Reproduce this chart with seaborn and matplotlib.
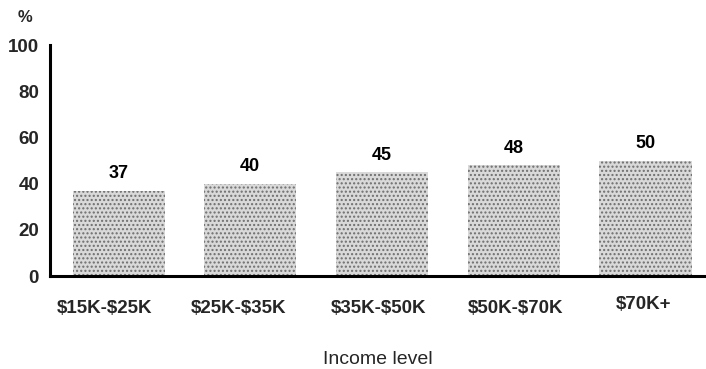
import matplotlib
matplotlib.use('Agg')
import matplotlib.pyplot as plt
import matplotlib.transforms as mtransforms
import seaborn as sns

# 数据
categories = ['$15K-$25K', '$25K-$35K', '$35K-$50K', '$50K-$70K', '$70K+']
values = [37, 40, 45, 48, 50]
y_ticks = [0, 20, 40, 60, 80, 100]

sns.set_theme(style='white')
plt.rcParams['font.family'] = ['Liberation Sans', 'DejaVu Sans']
plt.rcParams['text.parse_math'] = False

fig = plt.figure(figsize=(7.06, 3.69), dpi=100)
ax = fig.add_axes([0.071, 0.252, 0.929, 0.626])

sns.barplot(x=categories, y=values, color='#d9d9d9', width=0.7, ax=ax,
            edgecolor='#6e6e6e', linewidth=0)
for p in ax.patches:
    p.set_hatch('....')

ax.bar_label(ax.containers[0], labels=[str(v) for v in values], padding=6,
             fontsize=13, fontweight='bold', color='black')

ax.set_ylim(0, 100)
ax.set_xlim(-0.52, 4.46)
ax.set_yticks(y_ticks)
ax.set_yticklabels([str(t) for t in y_ticks], fontsize=13.5, fontweight='bold')
ax.tick_params(axis='y', direction='out', length=5, width=2, color='black', pad=3)
ax.tick_params(axis='x', length=0, pad=17)
ax.set_xticks(range(len(categories)))
ax.set_xticklabels(categories, fontsize=13.5, fontweight='bold')

# 标签略微偏移
shifts = [(-14, 0), (-12, 0), (-3, 0), (2, 0), (-2, 4)]
for lab, (dx, dy) in zip(ax.get_xticklabels(), shifts):
    lab.set_transform(lab.get_transform() + mtransforms.ScaledTranslation(dx / 100, dy / 100, fig.dpi_scale_trans))

for s in ['top', 'right']:
    ax.spines[s].set_visible(False)
for s in ['left', 'bottom']:
    ax.spines[s].set_linewidth(2.2)
    ax.spines[s].set_color('black')

ax.set_xlabel('Income level', fontsize=14, labelpad=25)
ax.set_ylabel('')
fig.text(25 / 706, 1 - 17 / 369, '%', fontsize=12, fontweight='bold', ha='center', va='center')

fig.savefig('out.png', dpi=100)
